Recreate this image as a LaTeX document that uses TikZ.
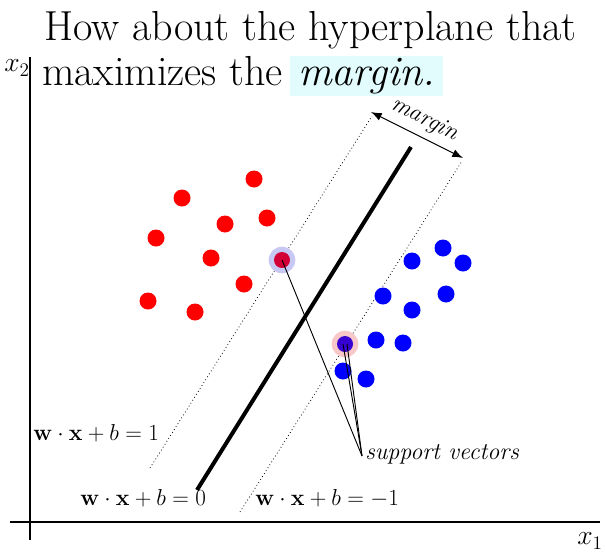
\documentclass[tikz,border=0pt]{standalone}
\usetikzlibrary{arrows.meta}
\definecolor{hlcyan}{RGB}{226,252,253}
\definecolor{redsv}{RGB}{210,0,55}
\definecolor{bluesv}{RGB}{55,0,210}
\definecolor{halob}{RGB}{200,200,245}
\definecolor{halor}{RGB}{248,200,200}
\begin{document}
\begin{tikzpicture}[x=0.75pt,y=-0.75pt,
  reddot/.style={circle,fill=red,minimum size=12.75pt,inner sep=0pt},
  bluedot/.style={circle,fill=blue,minimum size=12.75pt,inner sep=0pt},
  halo/.style={circle,minimum size=20pt,inner sep=0pt},
  title/.style={font=\fontsize{31.5}{36}\selectfont,inner sep=0pt},
  lbl/.style={font=\fontsize{18}{21}\selectfont,inner sep=0pt},
  axlbl/.style={font=\fontsize{20}{22}\selectfont,inner sep=0pt},
  axis/.style={line width=0.9pt},
  marginline/.style={dotted,line width=0.6pt},
  svline/.style={line width=0.7pt}]
\useasboundingbox (0,0) rectangle (605,553);

% title
\node[title,anchor=base west] (t1) at (44,40) {How about the hyperplane that};
\node[title,anchor=base west] (t2) at (42,85) {maximizes the};
\node[title,anchor=base west,fill=hlcyan,inner xsep=6pt,inner ysep=1.5pt,xshift=5pt] (t3) at (t2.base east) {\itshape margin.};

% axes
\coordinate (ytop) at (30,57);
\coordinate (ybot) at (30,540);
\coordinate (xl) at (10,522);
\coordinate (xr) at (600,522);
\draw[axis] (ytop) -- (ybot);
\draw[axis] (xl) -- (xr);
\node[axlbl] (x2) at (17,68) {$x_2$};
\node[axlbl] (x1) at (590,541) {$x_1$};

% hyperplanes
\coordinate (h0a) at (197,490);
\coordinate (h0b) at (411,147);
\coordinate (hpa) at (150,468);
\coordinate (hpb) at (372,116);
\coordinate (hma) at (240,512);
\coordinate (hmb) at (462,161);
\draw[marginline] (hpa) -- (hpb);
\draw[marginline] (hma) -- (hmb);
\draw[line width=3pt] (h0a) -- (h0b);

% margin arrow
\coordinate (ma) at (371,112);
\coordinate (mb) at (463,158);
\draw[line width=0.7pt,{Latex[length=8pt,width=6pt]}-{Latex[length=8pt,width=6pt]}] (ma) -- (mb)
  node[midway,above=5pt,sloped,lbl] (mlbl) {\itshape margin};

% red points
\foreach \p [count=\i] in {(182,198),(254,179),(225,224),(267,218),(156,238),(211,258),(244,284),(148,301),(195,312)}
  \node[reddot] (r\i) at \p {};
% blue points
\foreach \p [count=\i] in {(443,248),(412,261),(463,263),(383,296),(446,294),(412,310),(376,340),(403,343),(343,371),(366,379)}
  \node[bluedot] (b\i) at \p {};

% support vectors
\node[halo,fill=halob] (hr) at (282,260) {};
\node[circle,fill=redsv,minimum size=12pt,inner sep=0pt] (sr) at (282,260) {};
\node[halo,fill=halor] (hb) at (345,344) {};
\node[circle,fill=bluesv,minimum size=12pt,inner sep=0pt] (sb) at (345,344) {};

\coordinate (sv) at (362,456);
\coordinate (sb1) at (343,344);
\coordinate (sb2) at (347,344);
\draw[svline] (sr.center) -- (sv);
\draw[svline] (sb1) -- (sv);
\draw[svline] (sb2) -- (sv);
\node[lbl,anchor=west] (svl) at (365,454) {\itshape support vectors};

% equations
\node[lbl,anchor=base west] (e1) at (33,440) {$\mathbf{w}\cdot\mathbf{x}+b=1$};
\node[lbl,anchor=base west] (e0) at (80,505) {$\mathbf{w}\cdot\mathbf{x}+b=0$};
\node[lbl,anchor=base west] (em) at (255,505) {$\mathbf{w}\cdot\mathbf{x}+b=-1$};
\end{tikzpicture}
\end{document}
